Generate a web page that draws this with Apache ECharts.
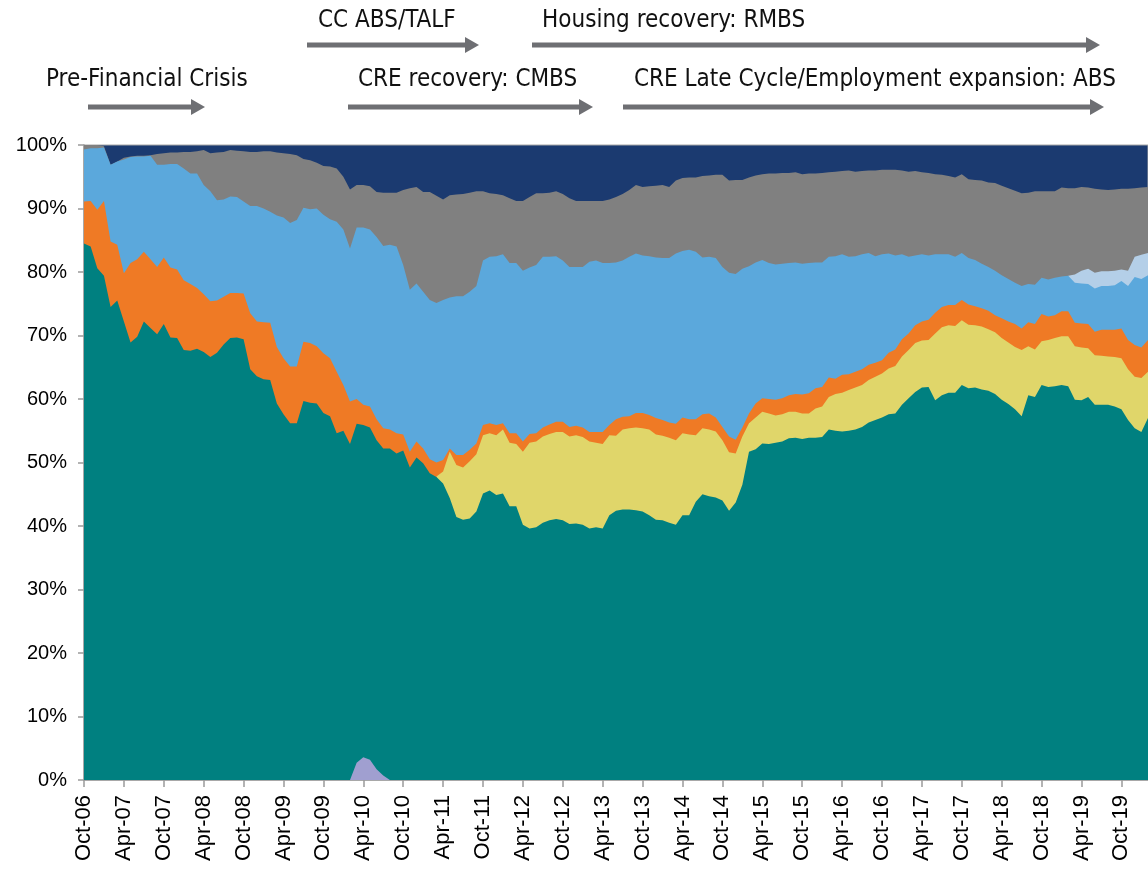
<!DOCTYPE html>
<html>
<head>
<meta charset="utf-8">
<script src="https://cdn.jsdelivr.net/npm/echarts@6/dist/echarts.min.js"></script>
<style>
  html, body { margin: 0; padding: 0; background: #fff; }
  #chart { width: 1148px; height: 869px; }
</style>
</head>
<body>
<div id="chart"></div>
<script>
// monthly categories, Oct-06 onwards (161 months)
var monthNames = ['Jan', 'Feb', 'Mar', 'Apr', 'May', 'Jun', 'Jul', 'Aug', 'Sep', 'Oct', 'Nov', 'Dec'];
var months = [];
for (var k = 0; k < 161; k++) {
    var m = (9 + k) % 12;
    var yr = 6 + Math.floor((9 + k) / 12);
    months.push(monthNames[m] + '-' + (yr < 10 ? '0' + yr : yr));
}

// cumulative share levels (top edge of each band, % of total)
var tealLevel = [
    84.5, 84.0, 80.6, 79.4, 74.5, 75.5, 72.2, 68.9, 69.8, 72.2, 71.2, 70.2, 71.8, 69.7, 69.6, 67.7, 67.6, 67.9, 67.4, 66.6, 67.3, 68.6, 69.6, 69.7, 69.4, 64.7, 63.6,
    63.1, 63.0, 59.3, 57.6, 56.2, 56.2, 59.7, 59.4, 59.3, 57.8, 57.3, 54.6, 55.0, 52.9, 56.1, 55.9, 55.5, 53.5, 52.2, 52.2, 51.4, 51.9, 49.2, 50.8, 49.9, 48.3, 47.7,
    46.7, 44.4, 41.4, 41.0, 41.2, 42.3, 45.1, 45.6, 44.9, 45.1, 43.1, 43.1, 40.2, 39.6, 39.8, 40.5, 40.9, 41.1, 40.9, 40.3, 40.4, 40.2, 39.6, 39.8, 39.6, 41.7,
    42.4, 42.6, 42.6, 42.5, 42.3, 41.7, 41.0, 40.9, 40.5, 40.2, 41.7, 41.7, 43.8, 45.0, 44.7, 44.5, 44.0, 42.4, 43.7, 46.5, 51.7, 52.1, 53.0, 52.9, 53.1, 53.3, 53.8,
    53.9, 53.7, 53.9, 53.9, 54.0, 55.2, 55.0, 54.9, 55.0, 55.2, 55.6, 56.3, 56.7, 57.1, 57.6, 57.7, 59.1, 60.1, 61.1, 61.8, 61.9, 59.8, 60.6, 61.0, 61.0, 62.2, 61.7,
    61.8, 61.5, 61.3, 60.8, 59.9, 59.2, 58.4, 57.3, 60.6, 60.3, 62.2, 61.9, 62.0, 62.2, 62.0, 59.9, 59.8, 60.3, 59.1, 59.1, 59.1, 58.8, 58.4, 56.7, 55.4, 54.8, 57.0
];

var yellowStart = 53;
var yellowLevel = [
    47.8, 48.6, 51.7, 49.6, 49.2, 50.2, 51.3, 54.3, 54.6, 54.3, 55.2, 53.1, 52.9, 51.7, 53.1, 53.3, 54.1, 54.5, 54.8, 54.8, 54.1, 54.3, 54.0, 53.3, 53.1, 52.9, 54.3,
    54.2, 55.2, 55.4, 55.5, 55.4, 55.2, 54.4, 54.2, 53.9, 53.5, 54.6, 54.4, 54.3, 55.4, 55.2, 54.9, 53.5, 51.6, 51.4, 54.1, 56.2, 57.1, 58.0, 57.7, 57.4, 57.6, 58.0,
    58.0, 57.7, 57.7, 58.5, 58.8, 60.3, 60.8, 61.0, 61.4, 61.8, 62.2, 63.0, 63.5, 64.0, 64.8, 65.2, 66.7, 67.7, 68.8, 69.2, 69.3, 70.3, 71.3, 71.6, 71.5, 72.4, 71.7,
    71.6, 71.4, 71.0, 70.5, 69.6, 68.9, 68.2, 67.7, 68.3, 67.8, 69.1, 69.3, 69.6, 69.9, 69.9, 68.3, 68.1, 68.0, 66.9, 66.8, 66.7, 66.6, 66.4, 64.7, 63.5, 63.3, 64.3
];

var orangeLevel = [
    91.1, 91.2, 89.8, 91.2, 84.8, 84.3, 79.8, 81.4, 82.0, 83.2, 82.0, 80.8, 82.3, 80.7, 80.4, 78.7, 78.1, 77.5, 76.5, 75.4, 75.5, 76.1, 76.7, 76.7, 76.6, 73.5, 72.2,
    72.1, 72.0, 68.2, 66.4, 65.1, 65.1, 69.0, 68.8, 68.3, 67.2, 66.4, 64.3, 62.2, 59.6, 60.0, 59.1, 58.8, 56.8, 55.4, 55.2, 54.6, 54.4, 51.7, 53.3, 52.2, 50.5, 50.0,
    50.4, 52.2, 51.2, 51.2, 52.0, 53.0, 55.9, 56.2, 55.9, 56.2, 54.6, 54.6, 53.3, 54.5, 54.6, 55.5, 56.0, 56.4, 56.4, 55.6, 55.8, 55.5, 54.8, 54.8, 54.8, 55.9,
    56.8, 57.2, 57.3, 57.8, 57.8, 57.5, 57.0, 56.7, 56.3, 56.1, 57.1, 56.8, 56.8, 57.6, 57.7, 57.1, 55.6, 54.1, 53.6, 55.5, 57.7, 59.3, 60.1, 60.0, 59.9, 60.1, 60.6,
    60.8, 60.7, 60.9, 61.7, 61.9, 63.4, 63.2, 63.8, 63.9, 64.3, 64.7, 65.4, 65.7, 66.1, 67.3, 67.8, 69.4, 70.3, 71.6, 72.2, 72.5, 73.6, 74.5, 74.8, 74.8, 75.6, 74.9,
    74.6, 74.3, 73.9, 73.2, 72.7, 72.2, 71.8, 71.1, 72.1, 71.8, 73.4, 73.0, 73.2, 73.8, 73.8, 72.0, 71.9, 71.8, 70.6, 70.9, 70.9, 70.9, 71.1, 69.3, 68.5, 68.1, 69.3
];

var blueLevel = [
    99.3, 99.5, 99.5, 99.6, 96.9, 97.4, 97.7, 98.1, 98.2, 98.2, 98.3, 96.9, 96.9, 97.0, 97.0, 96.3, 95.5, 95.5, 93.7, 92.7, 91.3, 91.4, 91.9, 91.8, 91.1, 90.4, 90.4,
    90.0, 89.5, 88.9, 88.6, 87.7, 88.2, 90.1, 89.9, 90.0, 89.0, 88.3, 87.9, 86.7, 83.7, 87.0, 87.0, 86.7, 85.5, 84.1, 84.3, 84.0, 81.1, 77.2, 78.2, 76.9, 75.6, 75.1,
    75.6, 76.0, 76.2, 76.2, 76.9, 77.8, 81.8, 82.4, 82.5, 82.8, 81.4, 81.4, 80.2, 80.7, 81.1, 82.4, 82.4, 82.5, 81.8, 80.8, 80.8, 80.8, 81.6, 81.8, 81.4, 81.4,
    81.5, 81.8, 82.4, 82.9, 82.6, 82.5, 82.3, 82.2, 82.2, 82.9, 83.3, 83.5, 83.2, 82.3, 82.4, 82.2, 80.8, 79.9, 79.7, 80.5, 80.9, 81.5, 81.9, 81.4, 81.2, 81.3, 81.4,
    81.5, 81.3, 81.4, 81.5, 81.5, 82.4, 82.5, 82.8, 82.4, 82.5, 82.8, 83.0, 82.5, 82.8, 82.9, 82.6, 82.8, 82.4, 82.6, 82.8, 82.6, 82.8, 82.8, 82.8, 82.4, 83.0, 82.2,
    81.9, 81.3, 80.8, 80.2, 79.5, 78.9, 78.3, 77.8, 78.1, 78.0, 79.1, 78.8, 79.1, 79.3, 79.4, 78.3, 78.2, 78.1, 77.4, 77.8, 77.8, 77.9, 78.6, 77.8, 79.2, 78.9, 79.5
];

var lightBlueStart = 148;
var lightBlueLevel = [79.4, 79.6, 80.2, 80.5, 79.9, 80.1, 80.1, 80.2, 80.4, 80.2, 82.4, 82.7, 83.0];

var grayLevel = [
    100, 100, 100, 99.8, 96.9, 97.4, 98.0, 98.2, 98.3, 98.3, 98.4, 98.6, 98.7, 98.8, 98.8, 98.9, 98.9, 99.0, 99.2, 98.7, 98.8, 98.9, 99.2, 99.1, 99.0, 98.9, 98.9,
    99.0, 99.0, 98.8, 98.7, 98.6, 98.4, 97.8, 97.6, 97.2, 96.7, 96.6, 96.3, 95.0, 93.0, 93.7, 93.7, 93.5, 92.6, 92.5, 92.5, 92.5, 92.9, 93.2, 93.4, 92.6, 92.6, 92.0,
    91.4, 92.1, 92.2, 92.3, 92.5, 92.7, 92.7, 92.4, 92.3, 92.1, 91.6, 91.2, 91.2, 91.8, 92.4, 92.4, 92.5, 92.7, 92.3, 91.6, 91.2, 91.2, 91.2, 91.2, 91.2, 91.4,
    91.8, 92.3, 92.9, 93.7, 93.4, 93.5, 93.6, 93.7, 93.4, 94.4, 94.8, 94.9, 94.9, 95.1, 95.2, 95.3, 95.3, 94.4, 94.5, 94.5, 94.9, 95.2, 95.4, 95.5, 95.5, 95.6, 95.6,
    95.7, 95.4, 95.5, 95.5, 95.6, 95.7, 95.8, 95.9, 96.0, 95.8, 95.9, 96.0, 96.0, 96.1, 96.1, 96.1, 96.0, 95.8, 95.9, 95.7, 95.6, 95.4, 95.3, 95.1, 94.9, 95.4, 94.6,
    94.5, 94.4, 94.1, 94.0, 93.6, 93.2, 92.8, 92.4, 92.5, 92.7, 92.7, 92.7, 92.7, 93.3, 93.2, 93.2, 93.4, 93.3, 93.1, 93.0, 92.9, 93.0, 93.1, 93.1, 93.2, 93.3, 93.4
];

var lavenderStart = 40;
var lavenderLevel = [0, 2.7, 3.6, 3.2, 1.7, 0.7, 0];

// y axis ticks
var yMin = 0, yMax = 100, yStep = 10;

// phase annotations above the plot
var phases = [
    {text: 'CC ABS/TALF', tx: 318, ty: 21, x1: 307, x2: 479, y: 45},
    {text: 'Housing recovery: RMBS', tx: 542, ty: 21, x1: 532, x2: 1100, y: 45},
    {text: 'Pre-Financial Crisis', tx: 46, ty: 80, x1: 88, x2: 205, y: 107},
    {text: 'CRE recovery: CMBS', tx: 358, ty: 80, x1: 348, x2: 593, y: 107},
    {text: 'CRE Late Cycle/Employment expansion: ABS', tx: 634, ty: 80, x1: 623, x2: 1104, y: 107}
];

function padded(start, values) {
    var out = [];
    for (var i = 0; i < start; i++) out.push(null);
    return out.concat(values);
}

function band(name, data, color) {
    return {
        name: name,
        type: 'line',
        data: data,
        symbol: 'none',
        silent: true,
        lineStyle: {width: 0},
        areaStyle: {color: color, opacity: 1}
    };
}

var arrowColor = '#6e6f73';
var graphics = [];
phases.forEach(function (p) {
    graphics.push({
        type: 'text',
        x: p.tx,
        y: p.ty,
        style: {
            text: p.text,
            fill: '#111',
            font: '24px "DejaVu Sans Condensed", "Liberation Sans Narrow", "Liberation Sans", sans-serif',
            verticalAlign: 'middle'
        }
    });
    graphics.push({
        type: 'line',
        shape: {x1: p.x1, y1: p.y, x2: p.x2 - 8, y2: p.y},
        style: {stroke: arrowColor, lineWidth: 5}
    });
    graphics.push({
        type: 'polygon',
        shape: {points: [[p.x2 - 14, p.y - 8], [p.x2, p.y], [p.x2 - 14, p.y + 8]]},
        style: {fill: arrowColor}
    });
});

var chart = echarts.init(document.getElementById('chart'));

var option = {
    backgroundColor: '#fff',
    animation: false,
    grid: {
        left: 84,
        right: -3,
        top: 145,
        bottom: 89,
        show: true,
        backgroundColor: '#1b3a70',
        borderColor: '#a6a6a6',
        borderWidth: 1
    },
    xAxis: {
        type: 'category',
        data: months,
        boundaryGap: false,
        axisLine: {lineStyle: {color: '#9a9a9a', width: 1.5}},
        axisTick: {show: true, interval: 5, length: 7, lineStyle: {color: '#9a9a9a', width: 1.5}},
        axisLabel: {
            interval: 5,
            rotate: 90,
            margin: 15,
            color: '#000',
            fontSize: 22,
            fontFamily: '"Liberation Sans", Arial, sans-serif'
        },
        splitLine: {show: false}
    },
    yAxis: {
        type: 'value',
        min: yMin,
        max: yMax,
        interval: yStep,
        axisLine: {show: true, lineStyle: {color: '#9a9a9a', width: 1.5}},
        axisTick: {show: true, length: 6, lineStyle: {color: '#9a9a9a', width: 1.5}},
        axisLabel: {
            formatter: '{value}%',
            margin: 17,
            color: '#000',
            fontSize: 20,
            fontFamily: '"Liberation Sans", Arial, sans-serif'
        },
        splitLine: {show: false}
    },
    graphic: graphics,
    series: [
        band('Gray', grayLevel, '#808080'),
        band('Light blue', padded(lightBlueStart, lightBlueLevel), '#b4cfe8'),
        band('Blue', blueLevel, '#5ba8dc'),
        band('Orange', orangeLevel, '#ef7a25'),
        band('Yellow', padded(yellowStart, yellowLevel), '#e0d66a'),
        band('Teal', tealLevel, '#008080'),
        band('Lavender', padded(lavenderStart, lavenderLevel), '#a09fd0')
    ]
};

chart.setOption(option);
</script>
</body>
</html>
